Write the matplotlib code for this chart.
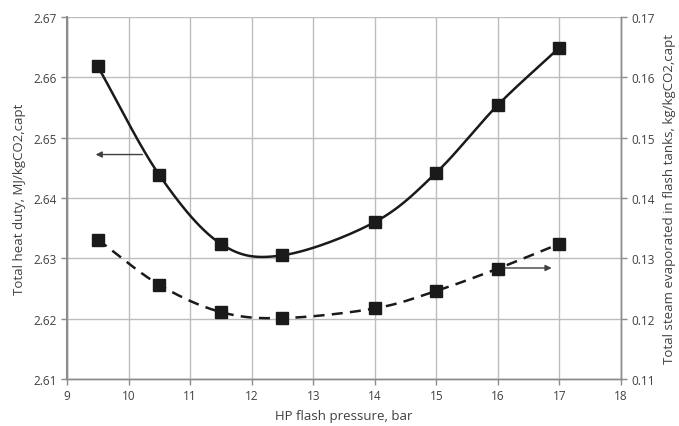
import numpy as np
import matplotlib
matplotlib.use("Agg")
import matplotlib.pyplot as plt

plt.rcParams['font.family'] = ['Open Sans', 'DejaVu Sans']

# data
pressure = [9.5, 10.5, 11.5, 12.5, 14, 15, 16, 17]
heat_duty = [2.6618, 2.6438, 2.6324, 2.6305, 2.6360, 2.6442, 2.6554, 2.6649]
steam_evap = [0.1331, 0.1256, 0.1211, 0.1201, 0.1217, 0.1246, 0.1283, 0.1324]

x_ticks = list(range(9, 19))
left_ticks = [2.61, 2.62, 2.63, 2.64, 2.65, 2.66, 2.67]
right_ticks = [0.11, 0.12, 0.13, 0.14, 0.15, 0.16, 0.17]


def smooth(xs, ys, n=30):
    # Catmull-Rom curve through the points, like Excel's smoothed line
    xs = np.asarray(xs, float)
    ys = np.asarray(ys, float)
    px = np.concatenate([[2 * xs[0] - xs[1]], xs, [2 * xs[-1] - xs[-2]]])
    py = np.concatenate([[2 * ys[0] - ys[1]], ys, [2 * ys[-1] - ys[-2]]])
    ox, oy = [], []
    t = np.linspace(0, 1, n)
    for i in range(1, len(px) - 2):
        for p, out in ((px, ox), (py, oy)):
            p0, p1, p2, p3 = p[i - 1], p[i], p[i + 1], p[i + 2]
            out.extend(0.5 * ((2 * p1) + (-p0 + p2) * t
                              + (2 * p0 - 5 * p1 + 4 * p2 - p3) * t**2
                              + (-p0 + 3 * p1 - 3 * p2 + p3) * t**3))
    return ox, oy


grid_c = '#bdbdbd'
spine_c = '#8c8c8c'
text_c = '#404040'

fig = plt.figure(figsize=(6.79, 4.27), dpi=100)
ax = fig.add_axes([0.0987, 0.110, 0.8157, 0.848])
ax2 = ax.twinx()

sx, sy = smooth(pressure, heat_duty)
ax.plot(sx, sy, color='#1a1a1a', lw=1.8, zorder=3)
ax.plot(pressure, heat_duty, ls='none', marker='s', ms=8, color='#1a1a1a', zorder=4)

tx, ty = smooth(pressure, steam_evap)
ax2.plot(tx, ty, color='#1a1a1a', lw=1.8, dashes=(4.4, 2.9), zorder=3)
ax2.plot(pressure, steam_evap, ls='none', marker='s', ms=8, color='#1a1a1a', zorder=4)

ax.set_xlim(9, 18)
ax.set_ylim(2.61, 2.67)
ax2.set_ylim(0.11, 0.17)
ax.set_xticks(x_ticks)
ax.set_yticks(left_ticks)
ax2.set_yticks(right_ticks)
ax.set_yticklabels([f"{v:.2f}" for v in left_ticks])
ax2.set_yticklabels([f"{v:.2f}" for v in right_ticks])

ax.grid(True, color=grid_c, lw=1)
ax.set_axisbelow(True)
for a in (ax, ax2):
    for s in a.spines.values():
        s.set_color(spine_c)
        s.set_linewidth(1)
    a.spines['top'].set_visible(False)
    a.tick_params(colors=spine_c, labelcolor=text_c, labelsize=8.5, length=4, width=1)
ax.spines['left'].set_linewidth(1.5)

ax.set_xlabel('HP flash pressure, bar', color=text_c, fontsize=9.5, labelpad=5)
ax.set_ylabel('Total heat duty, MJ/kgCO2,capt', color=text_c, fontsize=9.5, labelpad=5)
ax2.set_ylabel('Total steam evaporated in flash tanks, kg/kgCO2,capt', color=text_c,
               fontsize=9.5, labelpad=6)

# arrows pointing to each series' axis
ax.annotate('', xy=(9.42, 2.6472), xytext=(10.27, 2.6472),
            arrowprops=dict(arrowstyle='-|>', color='#404040', lw=1, mutation_scale=9))
ax2.annotate('', xy=(16.92, 0.1284), xytext=(16.0, 0.1284),
             arrowprops=dict(arrowstyle='-|>', color='#404040', lw=1, mutation_scale=9))

fig.savefig('out.png', dpi=100)
